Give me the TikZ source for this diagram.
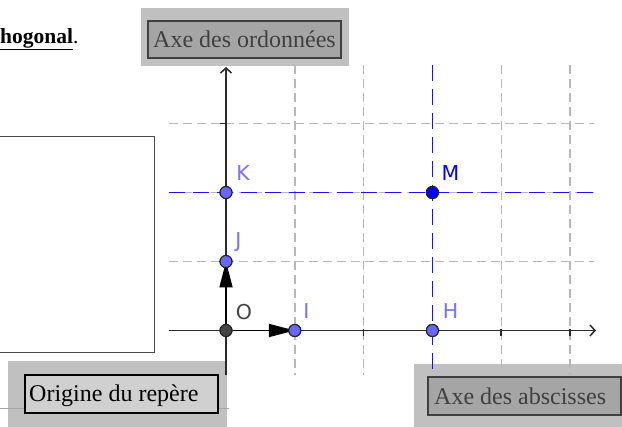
\documentclass[tikz,border=0pt]{standalone}
\usepackage{fontspec}
\setmainfont{Liberation Serif}
\newfontfamily\geofont{DejaVu Sans}
\usetikzlibrary{arrows.meta}
\definecolor{bgA}{HTML}{C0C0C0}
\definecolor{boxdark}{HTML}{A5A5A5}
\definecolor{boxlight}{HTML}{D0D0D0}
\definecolor{txtdark}{HTML}{404040}
\definecolor{gridgray}{HTML}{B8B8B8}
\definecolor{axisc}{HTML}{2A2A2A}
\definecolor{ptblue}{HTML}{6868FF}
\definecolor{labblue}{HTML}{7474FF}
\definecolor{mblue}{HTML}{0000FF}
\definecolor{lineblue}{HTML}{1414FF}
\definecolor{ogray}{HTML}{444444}
\begin{document}
\begin{tikzpicture}[x=1pt,y=-1pt,
  gridline/.style={draw=gridgray, line width=1.4pt, dash pattern=on 9pt off 5pt},
  blueline/.style={draw=lineblue, line width=1.6pt, dash pattern=on 16pt off 8pt},
  axis/.style={draw=axisc, line width=1.8pt},
  tick/.style={draw=axisc, line width=1.5pt},
  pt/.style={circle, draw=black!85, line width=1.1pt, minimum size=12pt, inner sep=0pt},
  lab/.style={font=\geofont\fontsize{20.5}{20.5}\selectfont, inner sep=0pt},
  lbl/.style={font=\fontsize{24}{28}\selectfont, inner sep=0pt, anchor=base west},
  vec/.style={draw=black, line width=1.8pt, -{Triangle[length=26pt,width=13pt]}},
  axarrow/.style={-{Straight Barb[length=5pt,width=11pt,line width=1.5pt]}}
]
\useasboundingbox (0,0) rectangle (622,427);

% top-left text
\node[inner sep=0pt, anchor=base west, font=\fontsize{21.5}{24}\selectfont] (title) at (0,43.5) {\textbf{\underline{hogonal}}.};

% left white box
\draw[draw=black!70, line width=0.9pt, fill=white] (-2,136) rectangle (154,352);

% outer backgrounds
\fill[bgA] (141,8) rectangle (349,66);
\fill[bgA] (8,361) rectangle (227,427);
\fill[bgA] (414,364) rectangle (622,427);
\draw[draw=black!35, line width=0.8pt] (0,408) -- (229,408);

% grid
\foreach \gx in {294.8,363.6,501.2,570} {
  \draw[gridline] (\gx,65) -- (\gx,375);
}
\foreach \gy in {123.5,192.5,261.5} {
  \draw[gridline] (169,\gy) -- (594,\gy);
}

% points (named)
\node[pt, fill=ogray] (O) at (226,330.5) {};
\node[pt, fill=ptblue] (I) at (294.8,330.5) {};
\node[pt, fill=ptblue] (J) at (226,261.5) {};
\node[pt, fill=ptblue] (K) at (226,192.5) {};
\node[pt, fill=ptblue] (H) at (432.4,330.5) {};
\node[pt, fill=mblue] (M) at (432.4,192.5) {};

% blue dashed lines
\coordinate (bl) at (169,192.5);
\coordinate (br) at (594,192.5);
\coordinate (bt) at (432.4,65);
\coordinate (bb) at (432.4,375);
\draw[blueline] (bl) -- (br);
\draw[blueline] (bt) -- (bb);

% axes
\coordinate (xl) at (169,330.5);
\coordinate (xr) at (596,330.5);
\coordinate (yb) at (226,375);
\coordinate (yt) at (226,67);
\draw[axis, axarrow] (xl) -- (xr);
\draw[axis, axarrow] (yb) -- (yt);
\foreach \tx in {363.6,501.2,570} {
  \draw[tick] (\tx,329) -- (\tx,336.5);
}
\draw[tick] (219.5,123.5) -- (226,123.5);

% vectors
\draw[vec] (O.center) -- (I.center);
\draw[vec] (O.center) -- (J.center);

% redraw points on top
\node[pt, fill=ogray] at (O) {};
\node[pt, fill=ptblue] at (I) {};
\node[pt, fill=ptblue] at (J) {};
\node[pt, fill=ptblue] at (K) {};
\node[pt, fill=ptblue] at (H) {};
\node[pt, fill=mblue] at (M) {};

% point labels
\node[lab, text=labblue] (Kl) at (243,173.5) {K};
\node[lab, text=mblue] (Ml) at (450.5,173) {M};
\node[lab, text=labblue] (Jl) at (238.5,242) {J};
\node[lab, text=ogray] (Ol) at (244,312) {O};
\node[lab, text=labblue] (Il) at (306.5,311.5) {I};
\node[lab, text=labblue] (Hl) at (450.5,311.5) {H};

% label boxes
\draw[draw=txtdark, line width=1.5pt, fill=boxdark] (148,21) rectangle (341,58);
\node[lbl, text=txtdark] (ord) at (153,48) {Axe des ordonnées};

\draw[draw=black, line width=1.5pt, fill=boxlight] (25,375) rectangle (218,413);
\node[lbl, text=black] (orig) at (29,401.5) {Origine du repère};

\draw[draw=txtdark, line width=1.5pt, fill=boxdark] (428,377) rectangle (621,415);
\node[lbl, text=txtdark] (abs) at (434,405) {Axe des abscisses};
\end{tikzpicture}
\end{document}
